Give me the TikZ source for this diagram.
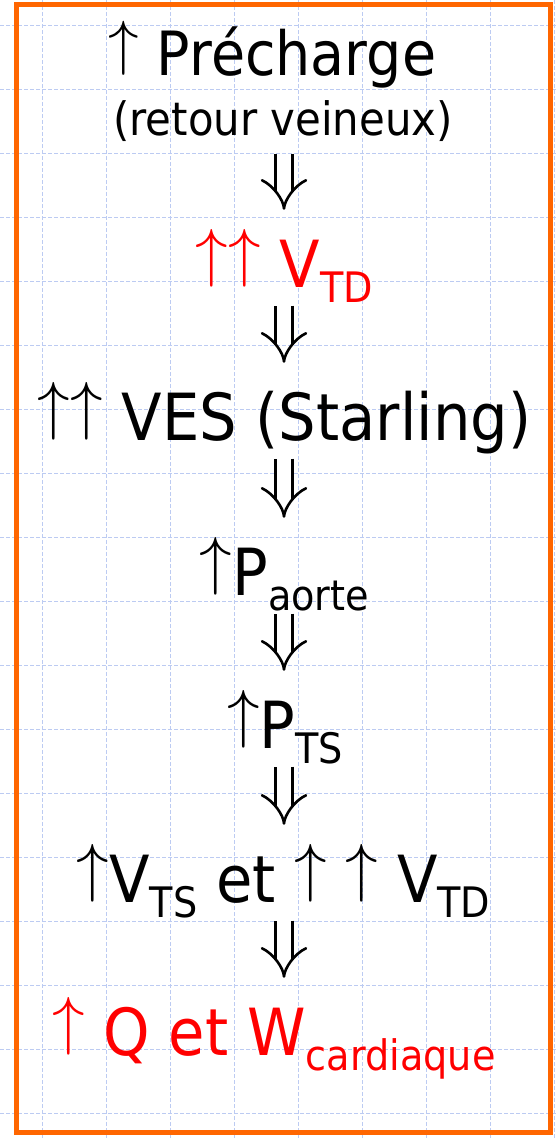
\RequirePackage{fix-cm}
\documentclass[tikz,border=0pt]{standalone}
\usepackage{fontspec}
\setmainfont{DejaVu Sans}[FakeStretch=0.91]
\usepackage{tikz}
\usetikzlibrary{arrows.meta}
\definecolor{FrameOrange}{HTML}{FF6600}
\definecolor{GridBlue}{HTML}{BCCBF2}
\definecolor{AlertRed}{HTML}{FF0000}
\newcommand{\up}{\raisebox{.194em}{$\uparrow$}}
\newcommand{\lowsub}[1]{\raisebox{-15pt}{\fontsize{42}{44}\selectfont #1}}
\newcommand{\bigline}{\fontsize{65}{70}\selectfont}

\begin{document}
\begin{tikzpicture}[x=1pt, y=-1pt,
  gridline/.style={GridBlue, line width=1pt, dash pattern=on 4pt off 2pt},
  stepline/.style={anchor=base, inner sep=0pt, text height=58pt, text depth=16pt, font=\bigline},
  implies/.style={double, line width=2.6pt, double distance=14pt, -Implies, shorten <=2.5pt, shorten >=19pt}]
  \useasboundingbox (0,0) rectangle (557,1138);

  % page grid
  \foreach \gx in {42,106,...,554} \draw[gridline] (\gx,0) -- (\gx,1138);
  \foreach \gy in {25,89,...,1113} \draw[gridline] (0,\gy) -- (557,\gy);

  \draw[FrameOrange, line width=5pt] (16.5,4) rectangle (550.5,1132.5);

  \node[stepline, font=\fontsize{61}{64}\selectfont] (precharge) at (272.5,75) {\up\ Précharge};
  \node[stepline, font=\fontsize{46}{50}\selectfont] (retour) at (283,135) {(retour veineux)};
  \node[stepline, text=AlertRed] (vtd) at (284.5,287) {\up\up\ V\lowsub{TD}};
  \node[stepline] (ves) at (284.5,440) {\up\up\ VES (Starling)};
  \node[stepline] (paorte) at (284.5,595) {\up P\lowsub{aorte}};
  \node[stepline] (pts) at (285,748) {\up P\lowsub{TS}};
  \node[stepline] (vts) at (283.5,902) {\up V\lowsub{TS} et \up\ \up\ V\lowsub{TD}};
  \node[stepline, text=AlertRed] (debit) at (274,1055) {\up\ Q et W\lowsub{cardiaque}};

  \coordinate (axis) at (284,0);
  \draw[implies] (retour.south -| axis) -- (vtd.north -| axis);
  \draw[implies] (vtd.south -| axis) -- (ves.north -| axis);
  \draw[implies] (ves.south -| axis) -- (paorte.north -| axis);
  \draw[implies] (paorte.south -| axis) -- (pts.north -| axis);
  \draw[implies] (pts.south -| axis) -- (vts.north -| axis);
  \draw[implies] (vts.south -| axis) -- (debit.north -| axis);
\end{tikzpicture}
\end{document}
